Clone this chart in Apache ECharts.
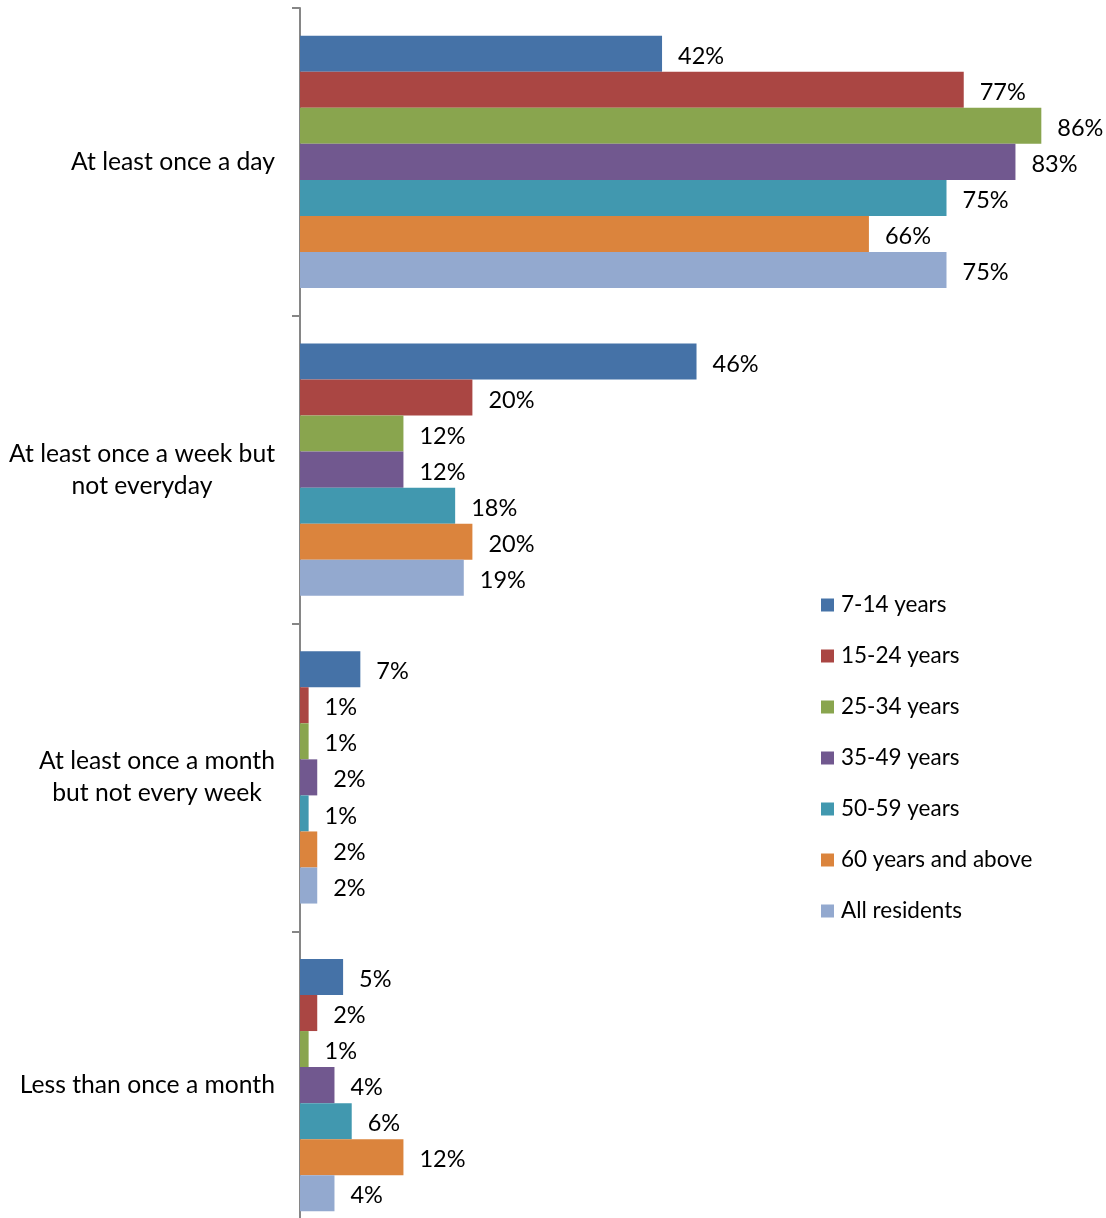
<!DOCTYPE html>
<html>
<head>
<meta charset="utf-8">
<script src="https://cdn.jsdelivr.net/npm/echarts@6/dist/echarts.min.js"></script>
<style>
  html, body { margin: 0; padding: 0; background: #ffffff; }
  #chart { width: 1106px; height: 1218px; }
</style>
</head>
<body>
<div id="chart"></div>
<script>
// Frequency categories (top to bottom)
const categories = [
  'At least once a day',
  'At least once a week but\nnot everyday',
  'At least once a month\nbut not every week',
  'Less than once a month'
];

// Age groups
const groupNames = [
  '7-14 years',
  '15-24 years',
  '25-34 years',
  '35-49 years',
  '50-59 years',
  '60 years and above',
  'All residents'
];

// Share of respondents (%) per age group, in category order
const age7to14    = [42, 46, 7, 5];
const age15to24   = [77, 20, 1, 2];
const age25to34   = [86, 12, 1, 1];
const age35to49   = [83, 12, 2, 4];
const age50to59   = [75, 18, 1, 6];
const age60plus   = [66, 20, 2, 12];
const allResidents = [75, 19, 2, 4];

const groupValues = [age7to14, age15to24, age25to34, age35to49, age50to59, age60plus, allResidents];
const colors = ['#4572A7', '#AA4643', '#89A54E', '#71588F', '#4198AF', '#DB843D', '#93A9CF'];

const FONT = 'Lato';

const series = groupNames.map((name, i) => ({
  name: name,
  type: 'bar',
  data: groupValues[i],
  barGap: '0%',
  barCategoryGap: '18%',
  itemStyle: { color: colors[i] },
  label: {
    show: true,
    position: 'right',
    distance: 16,
    offset: [0, 2.5],
    formatter: p => p.value + '%',
    fontFamily: FONT,
    fontSize: 23.5,
    color: '#000000'
  }
}));

const chart = echarts.init(document.getElementById('chart'));
chart.setOption({
  backgroundColor: '#ffffff',
  animation: false,
  grid: {
    left: 300,
    top: 8,
    right: -56,
    bottom: -21,
    containLabel: false,
    outerBoundsMode: 'none'
  },
  xAxis: {
    type: 'value',
    min: 0,
    max: 100,
    show: false
  },
  yAxis: {
    type: 'category',
    inverse: true,
    data: categories,
    axisLine: { show: true, lineStyle: { color: '#868686', width: 2 } },
    axisTick: { show: true, length: 8, inside: false, lineStyle: { color: '#868686', width: 2 } },
    axisLabel: {
      margin: 25,
      fontFamily: FONT,
      fontSize: 24.7,
      color: '#000000',
      formatter: v => v.split('\n').map(l => '{c|' + l + '}').join('\n'),
      rich: {
        c: { align: 'center', fontFamily: FONT, fontSize: 24.7, lineHeight: 32, color: '#000000' }
      }
    },
    splitLine: { show: false }
  },
  legend: {
    orient: 'vertical',
    left: 821,
    top: 593,
    padding: 0,
    itemWidth: 13,
    itemHeight: 13,
    itemGap: 27,
    icon: 'rect',
    textStyle: { fontFamily: FONT, fontSize: 22.5, color: '#000000', lineHeight: 24, padding: [0, 0, 0, 2] },
    data: groupNames
  },
  series: series
});
</script>
</body>
</html>
